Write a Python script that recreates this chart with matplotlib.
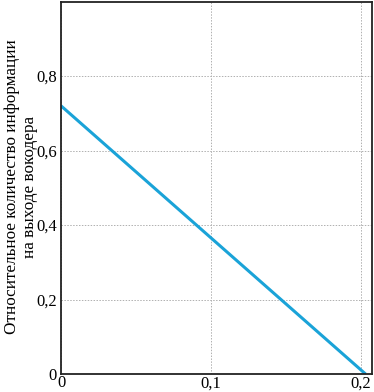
import matplotlib
matplotlib.use("Agg")
import matplotlib.pyplot as plt

x_vals = [0.0, 0.203]
y_vals = [0.72, 0.0]
xticks = [0, 0.1, 0.2]
xtick_labels = ["0", "0,1", "0,2"]
yticks = [0, 0.2, 0.4, 0.6, 0.8]
ytick_labels = ["0", "0,2", "0,4", "0,6", "0,8"]
ylabel = "Относительное количество информации\nна выходе вокодера"

plt.rcParams['font.family'] = ['Liberation Serif', 'DejaVu Serif']
fig = plt.figure(figsize=(3.74, 3.92), dpi=100)
ax = fig.add_axes([61/374, 18/392, 311/374, 372/392])
ax.plot(x_vals, y_vals, color='#1aa3d8', lw=2.2, solid_capstyle='butt')
ax.set_xlim(0, 0.2073)
ax.set_ylim(0, 0.9987)
ax.set_xticks(xticks)
ax.set_xticklabels(xtick_labels)
ax.set_yticks(yticks)
ax.set_yticklabels(ytick_labels)
ax.tick_params(length=0, labelsize=12)
ax.tick_params(axis='x', pad=1)
ax.tick_params(axis='y', pad=3)
ax.grid(True, color='#b0b0b0', linestyle=(0, (1.5, 1.5)), lw=0.7)
for s in ax.spines.values():
    s.set_linewidth(1.3)
    s.set_color('#222222')
fig.text(21/374, 1 - 187/392, ylabel, fontsize=12.3, linespacing=1.1,
         rotation=90, ha='center', va='center', multialignment='center')
fig.savefig("out.png", dpi=100)
